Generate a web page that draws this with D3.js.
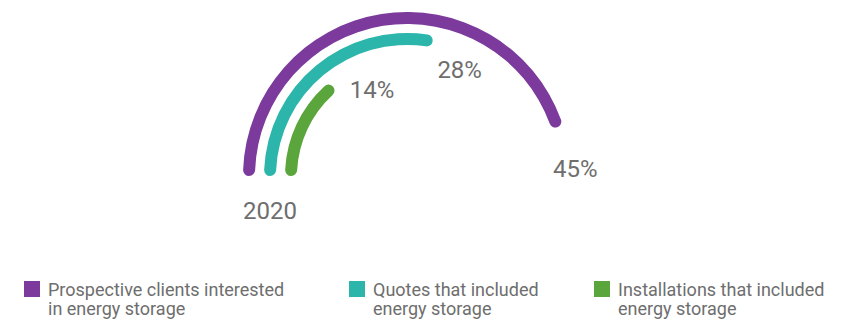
<!DOCTYPE html>
<html>
<head>
<meta charset="utf-8">
<script src="https://cdn.jsdelivr.net/npm/d3@7"></script>
<style>
  html, body { margin: 0; padding: 0; background: #fff; }
  svg { display: block; font-family: Roboto, "Noto Sans", sans-serif; }
</style>
</head>
<body>
<svg id="chart" width="841" height="320"></svg>
<script>
// Share of each stage of the energy-storage funnel, 2020
const series = ["Prospective clients interested in energy storage",
                "Quotes that included energy storage",
                "Installations that included energy storage"];
const legendLines = [["Prospective clients interested", "in energy storage"],
                     ["Quotes that included", "energy storage"],
                     ["Installations that included", "energy storage"]];
const values = [45, 28, 14];
const yearLabel = "2020";
const colors = ["#7b3a9c", "#2cb5aa", "#5aa63c"];

const svg = d3.select("#chart");
const cx = 407, cy = 176;
const thickness = 12;

// Full circle corresponds to 100 %
const angle = d3.scaleLinear().domain([0, 100]).range([0, 2 * Math.PI]);
const radius = d3.scalePoint().domain(series).range([158, 116]);
const start = -Math.PI / 2;

const g = svg.append("g").attr("transform", `translate(${cx},${cy})`);

const arc = d3.arc()
  .innerRadius(d => radius(d.name) - thickness / 2)
  .outerRadius(d => radius(d.name) + thickness / 2)
  .startAngle(start)
  .endAngle(d => start + angle(d.value))
  .cornerRadius(thickness / 2);

const data = series.map((name, i) => ({ name, value: values[i], color: colors[i] }));

g.selectAll("path.bar")
  .data(data)
  .join("path")
  .attr("class", "bar")
  .attr("d", arc)
  .attr("fill", d => d.color);

// Value labels, nudged off the end of each arc
const labelOffset = [[18, 41], [27, 28], [39, 3]];
g.selectAll("text.value")
  .data(data)
  .join("text")
  .attr("class", "value")
  .attr("x", (d, i) => radius(d.name) * Math.sin(start + angle(d.value)) + labelOffset[i][0])
  .attr("y", (d, i) => -radius(d.name) * Math.cos(start + angle(d.value)) + labelOffset[i][1])
  .attr("text-anchor", "middle")
  .attr("dy", "0.35em")
  .attr("font-size", 24)
  .attr("fill", "#6e6e6e")
  .text(d => d.value + "%");

// Year label beneath the arc starts
g.append("text")
  .attr("x", -radius(series[1]))
  .attr("y", 35)
  .attr("text-anchor", "middle")
  .attr("dy", "0.35em")
  .attr("font-size", 24)
  .attr("fill", "#6e6e6e")
  .text(yearLabel);

// Legend
const legendX = d3.scaleOrdinal().domain(series).range([24, 349, 594]);
const legend = svg.selectAll("g.legend")
  .data(data)
  .join("g")
  .attr("class", "legend")
  .attr("transform", d => `translate(${legendX(d.name)},281)`);

legend.append("rect")
  .attr("width", 16)
  .attr("height", 16)
  .attr("fill", d => d.color);

legend.append("text")
  .attr("x", 24)
  .attr("y", 15)
  .attr("font-size", 18)
  .attr("fill", "#6e6e6e")
  .selectAll("tspan")
  .data((d, i) => legendLines[i])
  .join("tspan")
  .attr("x", 24)
  .attr("dy", (d, j) => j === 0 ? 0 : 19)
  .text(d => d);
</script>
</body>
</html>
